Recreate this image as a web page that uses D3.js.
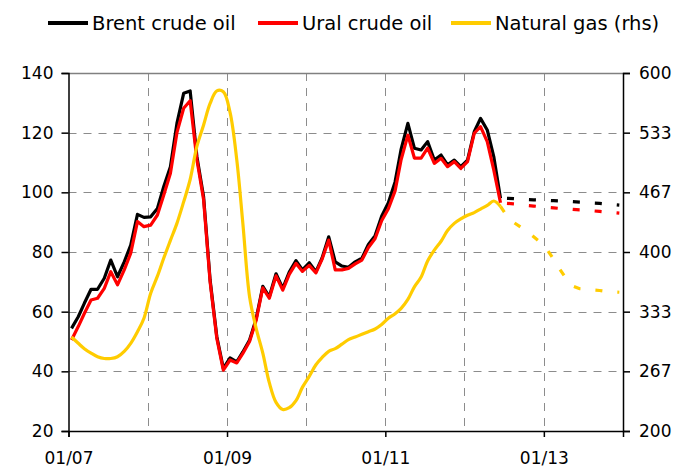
<!DOCTYPE html>
<html>
<head>
<meta charset="utf-8">
<script src="https://cdn.jsdelivr.net/npm/d3@7"></script>
<style>
  body { margin: 0; background: #fff; }
  svg { display: block; font-family: "DejaVu Sans", Verdana, sans-serif; }
  .tick text { font-size: 17px; fill: #000; }
  .legend text { font-size: 19.5px; fill: #000; }
</style>
</head>
<body>
<svg id="chart" width="677" height="469"></svg>
<script>
"use strict";

// monthly averages, Jan 2007 - Jun 2012
var brent = [
  54.4, 58.3, 62.8, 67.5, 67.5, 71.2, 77.3, 71.7, 76.7, 82.3, 92.6, 91.6,
  91.8, 94.6, 101.9, 108.6, 123.1, 133.2, 134.0, 112.0, 98.5, 70.6, 51.6, 41.0,
  44.5, 43.2, 46.5, 50.5, 57.5, 68.5, 65.0, 72.7, 67.8, 73.3, 77.1, 74.0,
  76.4, 73.4, 77.9, 85.1, 76.7, 75.3, 74.9, 76.7, 77.9, 82.5, 85.5, 92.0,
  96.5, 103.5, 114.5, 123.1, 114.8, 114.2, 117.0, 110.8, 112.5, 109.2, 110.8, 108.6,
  110.8, 120.3, 124.8, 120.9, 112.0, 98.0
];
var ural = [
  50.5, 55.0, 59.4, 63.9, 64.5, 67.8, 73.4, 69.0, 74.0, 79.6, 90.2, 88.5,
  89.0, 92.4, 99.0, 106.4, 120.0, 128.2, 130.7, 111.0, 97.5, 70.0, 51.0, 40.4,
  43.8, 42.8, 46.0, 50.0, 57.0, 68.0, 64.5, 72.0, 67.2, 72.5, 76.2, 73.5,
  75.5, 73.0, 77.5, 84.0, 74.0, 74.0, 74.5, 76.0, 77.3, 81.5, 84.5, 90.5,
  94.5, 100.5, 111.0, 119.2, 111.5, 111.5, 114.8, 109.7, 111.4, 108.6, 110.3, 108.0,
  110.3, 119.8, 122.0, 117.0, 107.5, 96.5
];
var gas = [
  305, 298, 292, 287, 283, 281, 281, 283, 289, 298, 311, 326,
  354, 373, 393, 413, 432, 456, 481, 518, 542, 566, 580, 579,
  556, 503, 432, 350, 315, 287, 254, 232, 224, 226, 234, 249,
  261, 274, 282, 289, 292, 297, 302, 305, 308, 311, 314, 319,
  326, 331, 337, 347, 361, 372, 390, 402, 412, 424, 432, 437,
  441, 444, 448, 452, 457, 451
];

// forecasts, Jul 2012 - Dec 2013 (gas starts from Jun 2012)
var brentFc = [98.0, 97.9, 97.7, 97.6, 97.5, 97.4, 97.3, 97.2, 97.1, 97.0, 96.9, 96.7, 96.6, 96.4, 96.3, 96.1, 95.9, 95.7];
var uralFc = [96.3, 96.1, 95.9, 95.6, 95.4, 95.2, 95.0, 94.8, 94.6, 94.5, 94.3, 94.1, 94.0, 93.8, 93.6, 93.4, 93.2, 93.0];
var gasFc = [451, 440, 433, 428, 423, 417, 411, 403, 392, 381, 370, 362, 359, 358.5, 357.5, 357, 356, 355.5, 355];

var leftTicks = [20, 40, 60, 80, 100, 120, 140];
var rightTicks = [200, 800 / 3, 1000 / 3, 400, 1400 / 3, 1600 / 3, 600];
var xTickYears = [2007, 2009, 2011, 2013];
var gridYears = [2008, 2009, 2010, 2011, 2012, 2013];

var legendItems = [
  {name: "Brent crude oil", color: "#000000"},
  {name: "Ural crude oil", color: "#ff0000"},
  {name: "Natural gas (rhs)", color: "#ffcc00"}
];

var svg = d3.select("#chart");
var pLeft = 68.5, pRight = 623, pTop = 73, pBottom = 431;

var x = d3.scaleTime()
  .domain([new Date(2007, 0, 1), new Date(2014, 0, 1)])
  .range([pLeft, pRight]);
var yL = d3.scaleLinear().domain([20, 140]).range([pBottom, pTop]);
var yR = d3.scaleLinear().domain([200, 600]).range([pBottom, pTop]);

function monthDate(startYear, startMonth, i) {
  return new Date(startYear, startMonth + i, 15);
}

// gridlines
var grid = svg.append("g").attr("stroke", "#8c8c8c").attr("stroke-width", 1);
grid.selectAll(".hg").data(leftTicks.slice(1, -1)).enter().append("line")
  .attr("x1", pLeft).attr("x2", pRight)
  .attr("y1", function(d){ return Math.round(yL(d)) + 0.5; })
  .attr("y2", function(d){ return Math.round(yL(d)) + 0.5; })
  .attr("stroke-dasharray", "8,7");
grid.selectAll(".vg").data(gridYears).enter().append("line")
  .attr("x1", function(d){ return Math.round(x(new Date(d, 0, 1))) + 0.5; })
  .attr("x2", function(d){ return Math.round(x(new Date(d, 0, 1))) + 0.5; })
  .attr("y1", pTop).attr("y2", pBottom)
  .attr("stroke-dasharray", "8,7");
grid.append("line")
  .attr("x1", pLeft).attr("x2", pRight)
  .attr("y1", pTop + 0.5).attr("y2", pTop + 0.5)
  .attr("stroke", "#808080").attr("stroke-width", 1.5);

// axes
svg.append("g").attr("transform", "translate(" + pLeft + ",0)")
  .call(d3.axisLeft(yL).tickValues(leftTicks).tickSizeOuter(0).tickSize(7).tickPadding(8));
svg.append("g").attr("transform", "translate(" + pRight + ",0)")
  .call(d3.axisRight(yR).tickValues(rightTicks).tickSizeOuter(0).tickSize(7).tickPadding(9)
    .tickFormat(d3.format(".0f")));
svg.append("g").attr("transform", "translate(0," + pBottom + ")")
  .call(d3.axisBottom(x).tickValues(xTickYears.map(function(d){ return new Date(d, 0, 1); }))
    .tickSizeOuter(0).tickSize(6).tickPadding(15).tickFormat(d3.timeFormat("%m/%y")));
svg.selectAll(".domain, .tick line").attr("stroke", "#000").attr("stroke-width", 1.5);
svg.selectAll("g[font-family]").attr("font-family", null).attr("font-size", null);

// series
function lineOf(scale, startYear, startMonth, curve) {
  return d3.line()
    .x(function(d, i){ return x(monthDate(startYear, startMonth, i)); })
    .y(function(d){ return scale(d); })
    .curve(curve || d3.curveLinear);
}

var series = [
  {data: brent, fc: brentFc, scale: yL, color: "#000000", curve: d3.curveLinear, fcStart: 6},
  {data: ural, fc: uralFc, scale: yL, color: "#ff0000", curve: d3.curveLinear, fcStart: 6},
  {data: gas, fc: gasFc, scale: yR, color: "#ffcc00", curve: d3.curveCatmullRom, fcStart: 5}
];

series.forEach(function(s) {
  svg.append("path").datum(s.data)
    .attr("fill", "none").attr("stroke", s.color).attr("stroke-width", 3.2)
    .attr("stroke-linejoin", "round")
    .attr("d", lineOf(s.scale, 2007, 0, s.curve));
  svg.append("path").datum(s.fc)
    .attr("fill", "none").attr("stroke", s.color).attr("stroke-width", 3.2)
    .attr("stroke-dasharray", "7,15")
    .attr("d", lineOf(s.scale, 2012, s.fcStart, d3.curveLinear));
});

// legend
var legendX = [48, 258, 451];
var lg = svg.append("g").attr("class", "legend");
legendItems.forEach(function(d, i) {
  lg.append("line")
    .attr("x1", legendX[i]).attr("x2", legendX[i] + 40)
    .attr("y1", 23).attr("y2", 23)
    .attr("stroke", d.color).attr("stroke-width", 4);
  lg.append("text")
    .attr("x", legendX[i] + 44).attr("y", 30)
    .text(d.name);
});
</script>
</body>
</html>
